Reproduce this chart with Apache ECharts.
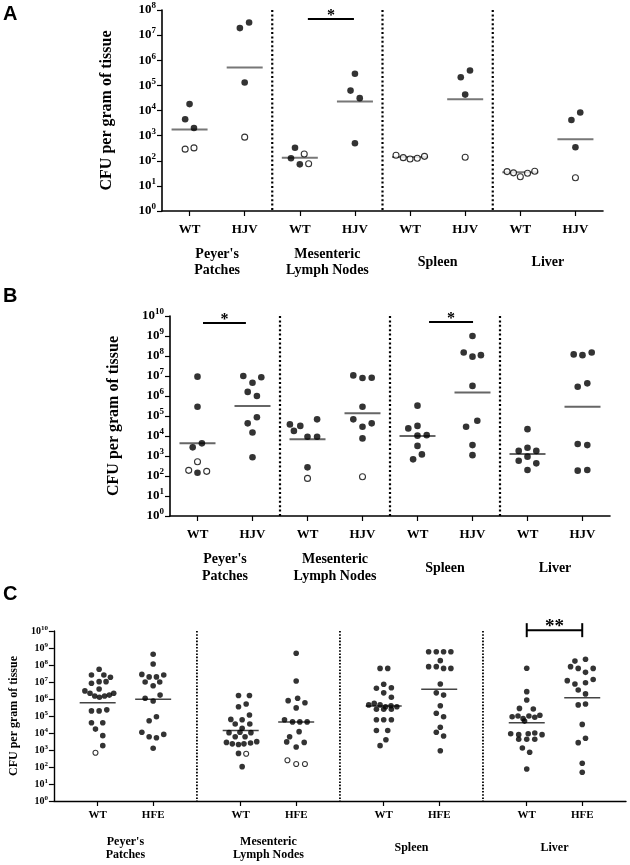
<!DOCTYPE html>
<html><head><meta charset="utf-8">
<script src="https://cdn.jsdelivr.net/npm/echarts@6/dist/echarts.min.js"></script>
<style>html,body{margin:0;padding:0;background:#fff}#c{width:630px;height:865px}</style>
</head><body><div id="c"></div>
<script>
// ---------- categories / tick labels ----------
const TISSUES = ["Peyer's\nPatches", "Mesenteric\nLymph Nodes", "Spleen", "Liver"];
const GENO_AB = ['WT', 'HJV'];
const GENO_C = ['WT', 'HFE'];
const EXP_A = [0, 1, 2, 3, 4, 5, 6, 7, 8];
const EXP_BC = [0, 1, 2, 3, 4, 5, 6, 7, 8, 9, 10];
const SEPARATORS = [0.5, 1.5, 2.5];

// ---------- data: [CFU/g, horizontal slot in the swarm, open(1)/filled(0)] ----------
// Panel A
const A_PP_WT  = [[1.8e4,0,0],[4.5e3,-0.55,0],[2.0e3,0.55,0],[290,-0.55,1],[325,0.55,1]];
const A_PP_HJV = [[1.9e7,-0.6,0],[3.2e7,0.55,0],[1.3e5,0,0],[870,0,1]];
const A_MLN_WT = [[330,-0.6,0],[185,0.55,1],[125,-1.1,0],[72,0,0],[76,1.1,1]];
const A_MLN_HJV= [[2.9e5,0,0],[6.2e4,-0.55,0],[3.1e4,0.6,0],[500,0,0]];
const A_SP_WT  = [[165,-1.75,1],[133,-0.85,1],[118,0,1],[125,0.9,1],[150,1.8,1]];
const A_SP_HJV = [[2.1e5,-0.55,0],[3.9e5,0.6,0],[4.3e4,0,0],[138,0,1]];
const A_LV_WT  = [[37,-1.65,1],[33,-0.85,1],[23,0,1],[32,0.9,1],[38,1.8,1]];
const A_LV_HJV = [[4.2e3,-0.5,0],[8.3e3,0.6,0],[345,0,0],[21,0,1]];
const A_MEAN = [1.75e3, 5.1e5, 133, 2.3e4, 140, 2.8e4, 35, 720];
const A_SIG = [[0.823, 1.241, 4.4e7, '*']];

// Panel B
const B_PP_WT  = [[9.3e6,0,0],[2.9e5,0,0],[2.7e3,-0.6,0],[4.3e3,0.55,0],[520,0,1],[192,-1.1,1],[146,0,0],[171,1.15,1]];
const B_PP_HJV = [[1.0e7,-1.15,0],[8.6e6,1.1,0],[4.6e6,0,0],[1.6e6,-0.6,0],[1.0e6,0.55,0],[8.6e4,0.55,0],[4.3e4,-0.6,0],[1.5e4,0,0],[860,0,0]];
const B_MLN_WT = [[3.8e4,-2.2,0],[3.2e4,-0.9,0],[6.8e4,1.2,0],[1.8e4,-1.7,0],[9.2e3,0,0],[9.2e3,1.2,0],[270,0,0],[76,0,1]];
const B_MLN_HJV= [[1.07e7,-1.15,0],[7.9e6,0,0],[8.2e6,1.15,0],[2.9e5,0,0],[6.8e4,-1.15,0],[4.3e4,1.15,0],[2.9e4,0,0],[7.6e3,0,0],[92,0,1]];
const B_SP_WT  = [[3.3e5,0,0],[2.4e4,-1.15,0],[3.2e4,0,0],[1.04e4,0,0],[1.1e4,1.15,0],[3.2e3,0,0],[680,-0.55,0],[1.2e3,0.55,0]];
const B_SP_HJV = [[1e9,0,0],[1.5e8,-1.1,0],[9.3e7,0,0],[1.1e8,1.05,0],[3.2e6,0,0],[2.9e4,-0.8,0],[5.8e4,0.6,0],[3.5e3,0,0],[1.1e3,0,0]];
const B_LV_WT  = [[2.2e4,0,0],[1.8e3,-1.1,0],[2.6e3,0,0],[1.8e3,1.1,0],[580,-1.1,0],[930,0,0],[430,1.1,0],[200,0,0]];
const B_LV_HJV = [[1.2e8,-1.1,0],[1.1e8,0,0],[1.5e8,1.15,0],[2.9e6,-0.6,0],[4.3e6,0.6,0],[4e3,-0.6,0],[3.5e3,0.6,0],[185,-0.6,0],[200,0.6,0]];
const B_MEAN = [4.3e3, 3.2e5, 6.8e3, 1.36e5, 1.0e4, 1.5e6, 1.26e3, 2.9e5];
const B_SIG = [[-0.2, 0.19, 4.5e9, '*'], [1.855, 2.255, 5e9, '*']];

// Panel C
const C_PP_WT  = [[5.6e7,0.2,0],[2.6e7,-0.85,0],[2.6e7,0.85,0],[1.9e7,1.75,0],[8.4e6,-0.85,0],[1.05e7,0.2,0],[1.05e7,1.15,0],[3.9e6,0.2,0],[3e6,-1.75,0],[2.2e6,-1.05,0],[1.5e6,-0.4,0],[1.26e6,0.25,0],[1.5e6,0.95,0],[1.7e6,1.6,0],[2.2e6,2.2,0],[2e5,-0.85,0],[2e5,0.2,0],[2.3e5,1.25,0],[4e4,-0.85,0],[4e4,0.7,0],[1.7e4,-0.3,0],[7e3,0.7,0],[1.8e3,0.7,0],[690,-0.3,1]];
const C_PP_HFE = [[4.3e8,0,0],[1.15e8,0,0],[2.8e7,-1.55,0],[2e7,-0.55,0],[2e7,0.45,0],[2.6e7,1.45,0],[1e7,-1.1,0],[1e7,0.9,0],[6e6,0,0],[1.1e6,-1.1,0],[1.7e6,0.95,0],[7.6e5,0,0],[9e4,0.45,0],[5.3e4,-0.55,0],[1.1e4,-1.55,0],[6e3,-0.55,0],[5.3e3,0.45,0],[8.3e3,1.45,0],[1.26e3,0,0]];
const C_MLN_WT = [[1.6e6,-0.3,0],[1.6e6,1.2,0],[3.5e5,-0.3,0],[5.1e5,0.75,0],[1.15e5,1.2,0],[6.3e4,-1.35,0],[6e4,0.2,0],[3.4e4,-0.75,0],[3.4e4,1.25,0],[1.9e4,0.2,0],[1.05e4,-1.6,0],[1.1e4,-0.1,0],[1.05e4,1.4,0],[6e3,-0.75,0],[6e3,0.6,0],[2.8e3,-1.95,0],[2.3e3,-1.15,0],[2.1e3,-0.3,0],[2.3e3,0.45,0],[2.6e3,1.35,0],[3.1e3,2.2,0],[630,-0.3,0],[600,0.75,1],[105,0.2,0]];
const C_MLN_HFE= [[4.9e8,0,0],[1.15e7,0,0],[8e5,-1.1,0],[1.1e6,0.2,0],[6e5,1.2,0],[3e5,0,0],[6e4,-1.6,0],[4.5e4,-0.5,0],[4.5e4,0.5,0],[4.5e4,1.5,0],[1.2e4,0.4,0],[6e3,-0.9,0],[3e3,-1.3,0],[2.8e3,1.1,0],[1.5e3,0,0],[250,-1.2,1],[150,0,1],[150,1.2,1]];
const C_SP_WT  = [[6.3e7,-0.5,0],[6.3e7,0.55,0],[7.3e6,0,0],[4.3e6,-1,0],[4.6e6,1.05,0],[2.3e6,0,0],[1.26e6,1.05,0],[4.5e5,-2.05,0],[5.5e5,-1.3,0],[4.5e5,-0.5,0],[3.5e5,0.25,0],[4e5,1.0,0],[3.5e5,1.8,0],[2.5e5,-1,0],[2.5e5,0,0],[2.5e5,1.05,0],[6e4,-1,0],[6e4,0,0],[6e4,1.05,0],[1.4e4,-1,0],[1.4e4,0.55,0],[4e3,0.3,0],[1.8e3,-0.5,0]];
const C_SP_HFE = [[6e8,-1.45,0],[6e8,-0.4,0],[6e8,0.6,0],[6e8,1.6,0],[1.8e8,0.15,0],[8e7,-1.45,0],[8e7,-0.4,0],[6.3e7,0.6,0],[6.3e7,1.6,0],[7.6e6,0.15,0],[2.3e6,-0.4,0],[1.7e6,0.6,0],[4e5,0.15,0],[1.45e5,-0.4,0],[9e4,0.6,0],[2.2e4,0.15,0],[1.1e4,-0.4,0],[6.6e3,0.6,0],[910,0.15,0]];
const C_LV_WT  = [[6.4e7,0,0],[2.7e6,0,0],[8.7e5,0,0],[2.8e5,-1,0],[2.6e5,0.9,0],[9e4,-2.0,0],[1e5,-1.2,0],[7e4,-0.5,0],[1e5,0.3,0],[8.5e4,1.1,0],[1.1e5,1.8,0],[5e4,-0.3,0],[9e3,-2.2,0],[8e3,-1.1,0],[9e3,0.2,0],[1e4,1.1,0],[8e3,2.1,0],[4.3e3,-1.1,0],[4.3e3,0,0],[4.3e3,1.1,0],[1.3e3,-0.6,0],[730,0.4,0],[76,0,0]];
const C_LV_HFE = [[1.7e8,-1.0,0],[2.2e8,0.45,0],[8e7,-1.6,0],[6.3e7,-0.55,0],[6.3e7,1.5,0],[3.7e7,0.45,0],[1.2e7,-2.05,0],[7.6e6,-1.0,0],[9e6,0.45,0],[1.4e7,1.5,0],[3.4e6,-0.55,0],[2e6,0.45,0],[4.5e5,-0.55,0],[5.1e5,0.45,0],[3.2e4,0,0],[2.7e3,-0.55,0],[4.9e3,0.45,0],[165,0,0],[49,0,0]];
const C_MEAN = [6e5, 9.6e5, 1.4e4, 4.5e4, 3.9e5, 3.7e6, 4e4, 1.2e6];
const C_SIG = [[2.806, 3.194, 1.12e10, '**']];

// ---------- layout / style (not data) ----------
const SERIF = '"Liberation Serif", "Times New Roman", serif';
const PANELS = [
  { groups: [[A_PP_WT, A_PP_HJV], [A_MLN_WT, A_MLN_HJV], [A_SP_WT, A_SP_HJV], [A_LV_WT, A_LV_HJV]],
    means: A_MEAN, sig: A_SIG, geno: GENO_AB, exps: EXP_A,
    grid: { left: 162, top: 10, width: 441, height: 201 },
    sub: 0.25, slot: 8 / 110, sym: 6.6, meanColor: '#777', meanW: 2,
    tickFont: 13, supFont: 9, genoFont: 13, genoMargin: 19, tisFont: 14, tisLH: 16, tisMargin: 51,
    nameFont: 16, nameGap: 47, sepW: 2.2, sepDash: [2, 2.4], sigFont: 16, sigW: 2, caps: false, axisW: 1.6 },
  { groups: [[B_PP_WT, B_PP_HJV], [B_MLN_WT, B_MLN_HJV], [B_SP_WT, B_SP_HJV], [B_LV_WT, B_LV_HJV]],
    means: B_MEAN, sig: B_SIG, geno: GENO_AB, exps: EXP_BC,
    grid: { left: 170, top: 316, width: 440, height: 200 },
    sub: 0.25, slot: 8 / 110, sym: 6.6, meanColor: '#666', meanW: 2,
    tickFont: 13, supFont: 9, genoFont: 13, genoMargin: 19, tisFont: 14, tisLH: 17, tisMargin: 52,
    nameFont: 16, nameGap: 48, sepW: 2.2, sepDash: [2, 2.4], sigFont: 16, sigW: 2, caps: false, axisW: 1.6 },
  { groups: [[C_PP_WT, C_PP_HFE], [C_MLN_WT, C_MLN_HFE], [C_SP_WT, C_SP_HFE], [C_LV_WT, C_LV_HFE]],
    means: C_MEAN, sig: C_SIG, geno: GENO_C, exps: EXP_BC,
    grid: { left: 39, top: 631, width: 587, height: 170 },
    sub: 0.194, slot: 7.5 / 147, sym: 5.6, meanColor: '#444', meanW: 1.5,
    tickFont: 10, supFont: 7, genoFont: 11, genoMargin: 14, tisFont: 12, tisLH: 13, tisMargin: 47,
    nameFont: 12, nameGap: 27, sepW: 1.8, sepDash: [1.6, 1.6], sigFont: 19, sigW: 2, caps: true, axisW: 1.4 }
];

const grids = [], xAxes = [], yAxes = [], series = [];
PANELS.forEach((P, gi) => {
  grids.push(P.grid);
  const ticks = [], tickLabels = [];
  TISSUES.forEach((t, g) => { ticks.push(g - P.sub, g + P.sub); tickLabels.push(P.geno[0], P.geno[1]); });
  const nearest = (arr, v) => { let bi = 0; arr.forEach((t, i) => { if (Math.abs(t - v) < Math.abs(arr[bi] - v)) bi = i; }); return bi; };
  xAxes.push({
    type: 'value', gridIndex: gi, min: -0.5, max: 3.5, position: 'bottom',
    splitLine: { show: false },
    axisLine: { onZero: false, lineStyle: { color: '#000', width: P.axisW } },
    axisTick: { show: true, customValues: ticks, length: 5, lineStyle: { color: '#000', width: 1.2 } },
    axisLabel: { customValues: ticks, formatter: v => tickLabels[nearest(ticks, v)], margin: P.genoMargin,
      verticalAlign: 'middle', color: '#000', fontFamily: SERIF, fontWeight: 'bold', fontSize: P.genoFont }
  });
  const tIdx = [0, 1, 2, 3];
  xAxes.push({
    type: 'value', gridIndex: gi, min: -0.5, max: 3.5, position: 'bottom',
    splitLine: { show: false }, axisLine: { show: false, onZero: false }, axisTick: { show: false },
    axisLabel: { customValues: tIdx, formatter: v => TISSUES[Math.round(v)], margin: P.tisMargin,
      verticalAlign: 'middle', align: 'center', lineHeight: P.tisLH, color: '#000', fontFamily: SERIF, fontWeight: 'bold', fontSize: P.tisFont }
  });
  const yVals = P.exps.map(e => Math.pow(10, e));
  const ymax = yVals[yVals.length - 1];
  yAxes.push({
    type: 'log', logBase: 10, gridIndex: gi, min: 1, max: ymax, position: 'left',
    name: 'CFU per gram of tissue', nameLocation: 'middle', nameGap: P.nameGap, nameRotate: 90,
    nameTextStyle: { color: '#000', fontFamily: SERIF, fontWeight: 'bold', fontSize: P.nameFont },
    splitLine: { show: false }, minorTick: { show: false },
    axisLine: { show: true, onZero: false, lineStyle: { color: '#000', width: P.axisW } },
    axisTick: { show: true, customValues: yVals, length: 5, lineStyle: { color: '#000', width: 1.2 } },
    axisLabel: { customValues: yVals, margin: 6,
      formatter: v => '{b|10}{s|' + Math.round(Math.log10(v)) + '}',
      rich: {
        b: { fontFamily: SERIF, fontWeight: 'bold', fontSize: P.tickFont, color: '#000', lineHeight: P.tickFont },
        s: { fontFamily: SERIF, fontWeight: 'bold', fontSize: P.supFont, color: '#000', lineHeight: P.supFont, padding: [0, 0, Math.round(P.tickFont * 0.6), 0] }
      } }
  });
  const xi = gi * 2;
  // points
  const filled = [], open = [];
  P.groups.forEach((pair, g) => pair.forEach((arr, s) => arr.forEach(([v, dx, o]) => {
    const x = g + (s === 0 ? -P.sub : P.sub) + dx * P.slot;
    (o ? open : filled).push([x, v]);
  })));
  // means
  const meanData = P.means.map((m, i) => [Math.floor(i / 2) + (i % 2 === 0 ? -P.sub : P.sub), m]);
  series.push({
    type: 'custom', xAxisIndex: xi, yAxisIndex: gi, z: 1, silent: true,
    data: SEPARATORS.map(x => [x, 1]),
    renderItem: (params, api) => {
      const top = api.coord([api.value(0), ymax]);
      const bot = api.coord([api.value(0), 1]);
      return { type: 'line', shape: { x1: top[0], y1: top[1], x2: bot[0], y2: bot[1] },
        style: { stroke: '#000', lineWidth: P.sepW, lineDash: P.sepDash } };
    }
  });
  series.push({
    type: 'custom', xAxisIndex: xi, yAxisIndex: gi, z: 2, silent: true, data: meanData,
    renderItem: (params, api) => {
      const p = api.coord([api.value(0), api.value(1)]);
      return { type: 'line', shape: { x1: p[0] - 18, y1: p[1], x2: p[0] + 18, y2: p[1] },
        style: { stroke: P.meanColor, lineWidth: P.meanW } };
    }
  });
  series.push({
    type: 'scatter', xAxisIndex: xi, yAxisIndex: gi, z: 3, symbol: 'circle', symbolSize: P.sym,
    data: filled, itemStyle: { color: '#000' }, silent: true
  });
  series.push({
    type: 'scatter', xAxisIndex: xi, yAxisIndex: gi, z: 4, symbol: 'circle', symbolSize: P.sym - 0.6,
    data: open, itemStyle: { color: '#fff', borderColor: '#000', borderWidth: 1.1 }, silent: true
  });
  series.push({
    type: 'custom', xAxisIndex: xi, yAxisIndex: gi, z: 5, silent: true, clip: false,
    data: P.sig.map(s => [s[0], s[1], s[2]]),
    encode: { x: [0, 1], y: 2 },
    renderItem: (params, api) => {
      const a = api.coord([api.value(0), api.value(2)]);
      const b = api.coord([api.value(1), api.value(2)]);
      const children = [{ type: 'line', shape: { x1: a[0], y1: a[1], x2: b[0], y2: b[1] }, style: { stroke: '#000', lineWidth: P.sigW } }];
      if (P.caps) {
        children.push({ type: 'line', shape: { x1: a[0], y1: a[1] - 7, x2: a[0], y2: a[1] + 7 }, style: { stroke: '#000', lineWidth: P.sigW } });
        children.push({ type: 'line', shape: { x1: b[0], y1: b[1] - 7, x2: b[0], y2: b[1] + 7 }, style: { stroke: '#000', lineWidth: P.sigW } });
      }
      children.push({ type: 'text', x: (a[0] + b[0]) / 2, y: a[1] - 3,
        style: { text: P.sig[params.dataIndex][3], align: 'center', verticalAlign: 'middle',
          font: 'bold ' + P.sigFont + 'px ' + SERIF, fill: '#000' } });
      return { type: 'group', children };
    }
  });
});

const chart = echarts.init(document.getElementById('c'), null, { renderer: 'canvas' });
chart.setOption({
  animation: false,
  backgroundColor: '#fff',
  grid: grids, xAxis: xAxes, yAxis: yAxes, series,
  graphic: [
    { type: 'text', left: 3, top: 4, style: { text: 'A', font: 'bold 20px "Liberation Sans", Arial, sans-serif', fill: '#000' } },
    { type: 'text', left: 3, top: 286, style: { text: 'B', font: 'bold 20px "Liberation Sans", Arial, sans-serif', fill: '#000' } },
    { type: 'text', left: 3, top: 584, style: { text: 'C', font: 'bold 20px "Liberation Sans", Arial, sans-serif', fill: '#000' } }
  ]
});
</script></body></html>
